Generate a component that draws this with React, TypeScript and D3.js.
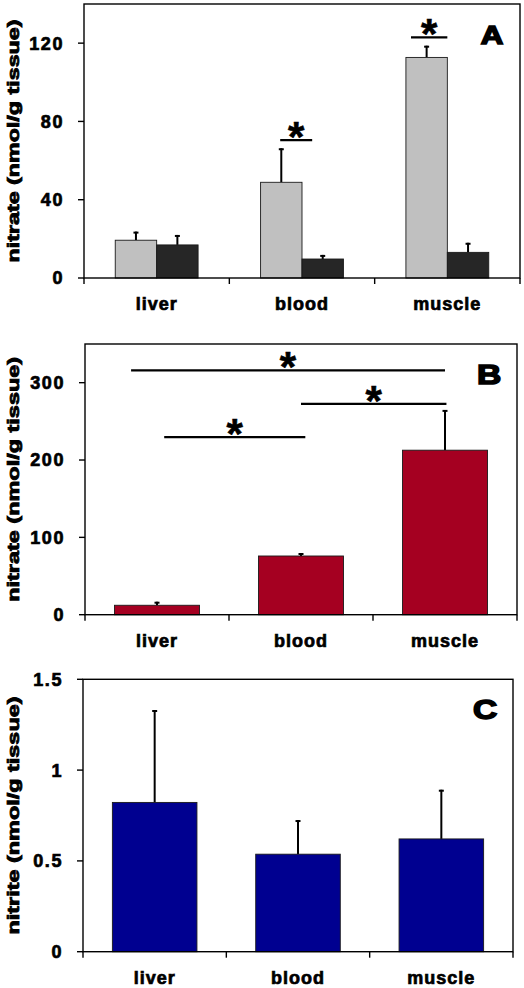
import React from "react";
import * as d3 from "d3";

// ---- data ----
const categories = ["liver", "blood", "muscle"];

// Panel A: nitrate, two groups (grey = control, black = treated)
const nitrateGrey = [19.3, 48.9, 112.7];
const nitrateGreyErr = [4.4, 17.4, 6.0];
const nitrateBlack = [16.9, 9.7, 13.1];
const nitrateBlackErr = [5.1, 2.1, 4.9];
const ticksA = [0, 40, 80, 120];

// Panel B: nitrate
const nitrateB = [12.2, 75.9, 212.7];
const nitrateBErr = [4.6, 3.9, 52.1];
const ticksB = [0, 100, 200, 300];

// Panel C: nitrite
const nitriteC = [0.822, 0.537, 0.621];
const nitriteCErr = [0.509, 0.188, 0.271];
const ticksC = [0, 0.5, 1, 1.5];
const tickLabelsC = ["0", "0.5", "1", "1.5"];

// significance brackets: category + offset (in steps), level in data units
const sigA = [
  { from: "blood", fromOff: -0.15, to: "blood", toOff: 0.07, level: 70.4 },
  { from: "muscle", fromOff: -0.25, to: "muscle", toOff: 0.0, level: 122.9 },
];
const sigB = [
  { from: "liver", fromOff: -0.18, to: "muscle", toOff: 0.0, level: 316 },
  { from: "blood", fromOff: 0.0, to: "muscle", toOff: 0.01, level: 272.6 },
  { from: "liver", fromOff: 0.05, to: "blood", toOff: 0.03, level: 229.5 },
];

const FONT = "'Liberation Sans', Arial, sans-serif";

type Series = { values: number[]; errs: number[]; fill: string };
type Sig = { from: string; fromOff: number; to: string; toOff: number; level: number };

function Panel(props: {
  left: number; right: number; top: number; bottom: number;
  max: number; ticks: number[]; tickLabels?: string[];
  series: Series[]; padding: number; sigs: Sig[];
  letter: string; letterSize: number; yLabel: string; yLabelLen: number;
}) {
  const { left, right, top, bottom, max, ticks, series, padding, sigs } = props;
  const y = d3.scaleLinear().domain([0, max]).range([bottom, top]);
  const step = d3.scaleBand<string>().domain(categories).range([left, right]).padding(0);
  const xb = d3
    .scaleBand<string>()
    .domain(categories)
    .range([left, right])
    .paddingInner(padding)
    .paddingOuter(padding / 2);
  const sub = d3
    .scaleBand<string>()
    .domain(series.map((_, i) => String(i)))
    .range([0, xb.bandwidth()]);
  const center = (c: string) => (step(c) as number) + step.bandwidth() / 2;
  const pos = (c: string, off: number) => center(c) + off * step.bandwidth();
  const boundaries = [...categories.map((c) => step(c) as number), right];
  const tickLabels = props.tickLabels ?? ticks.map((t) => String(t));
  const lx = right - 28;
  const ly = top + 40;

  return (
    <g>
      {/* bars */}
      {series.map((s, si) =>
        categories.map((c, ci) => {
          const x0 = (xb(c) as number) + (sub(String(si)) as number);
          const w = sub.bandwidth();
          const yv = y(s.values[ci]);
          const ye = y(s.values[ci] + s.errs[ci]);
          const cx = x0 + w / 2;
          return (
            <g key={`${si}-${ci}`}>
              <line x1={cx} x2={cx} y1={yv} y2={ye} stroke="#000" strokeWidth={2} />
              <line x1={cx - 2.5} x2={cx + 2.5} y1={ye + 1} y2={ye + 1} stroke="#000" strokeWidth={2} />
              <rect x={x0} y={yv} width={w} height={bottom - yv} fill={s.fill} stroke="#1a1a1a" strokeWidth={0.9} />
            </g>
          );
        })
      )}
      {/* frame */}
      <rect x={left} y={top} width={right - left} height={bottom - top} fill="none" stroke="#000" strokeWidth={1.4} />
      {/* y ticks */}
      {ticks.map((t, i) => (
        <g key={`yt${i}`}>
          <line x1={left - 6} x2={left} y1={y(t)} y2={y(t)} stroke="#000" strokeWidth={1.4} />
          <text
            x={left - 20}
            y={y(t)}
            dy="0.36em"
            textAnchor="end"
            fontFamily={FONT}
            fontWeight="bold"
            fontSize={18}
            letterSpacing={1.6}
            stroke="#000"
            strokeWidth={0.7}
          >
            {tickLabels[i]}
          </text>
        </g>
      ))}
      {/* x ticks */}
      {boundaries.map((bx, i) => (
        <line key={`xt${i}`} x1={bx} x2={bx} y1={bottom} y2={bottom + 6} stroke="#000" strokeWidth={1.4} />
      ))}
      {categories.map((c) => (
        <text
          key={`xl${c}`}
          x={center(c)}
          y={bottom + 32}
          textAnchor="middle"
          fontFamily={FONT}
          fontWeight="bold"
          fontSize={18}
          letterSpacing={1}
          stroke="#000"
          strokeWidth={0.7}
        >
          {c}
        </text>
      ))}
      {/* y label */}
      <text
        transform={`translate(19,${(top + bottom) / 2}) rotate(-90)`}
        textAnchor="middle"
        fontFamily={FONT}
        fontWeight="bold"
        fontSize={17}
        textLength={props.yLabelLen}
        lengthAdjust="spacingAndGlyphs"
        stroke="#000"
        strokeWidth={0.8}
      >
        {props.yLabel}
      </text>
      {/* significance */}
      {sigs.map((s, i) => {
        const x1 = pos(s.from, s.fromOff);
        const x2 = pos(s.to, s.toOff);
        const sy = y(s.level);
        return (
          <g key={`sig${i}`}>
            <line x1={x1} x2={x2} y1={sy} y2={sy} stroke="#000" strokeWidth={2.3} />
            <text
              x={(x1 + x2) / 2}
              y={sy + 11}
              textAnchor="middle"
              fontFamily={FONT}
              fontWeight="bold"
              fontSize={42}
              stroke="#000"
              strokeWidth={0.6}
            >
              *
            </text>
          </g>
        );
      })}
      {/* panel letter */}
      <text
        transform={`translate(${lx},${ly}) scale(1.2,1)`}
        textAnchor="middle"
        fontFamily={FONT}
        fontWeight="bold"
        fontSize={props.letterSize}
        stroke="#000"
        strokeWidth={1.6}
      >
        {props.letter}
      </text>
    </g>
  );
}

export default function App() {
  return (
    <svg
      width={524}
      height={988}
      style={{ position: "absolute", left: 0, top: 0, display: "block", background: "#fff" }}
    >
      <rect x={0} y={0} width={524} height={988} fill="#fff" />
      <Panel
        left={84} right={520} top={4} bottom={278}
        max={140} ticks={ticksA} padding={0.43}
        series={[
          { values: nitrateGrey, errs: nitrateGreyErr, fill: "#c0c0c0" },
          { values: nitrateBlack, errs: nitrateBlackErr, fill: "#262626" },
        ]}
        sigs={sigA} letter="A" letterSize={26}
        yLabel="nitrate (nmol/g tissue)" yLabelLen={243}
      />
      <Panel
        left={85} right={517} top={344} bottom={614.7}
        max={350} ticks={ticksB} padding={0.41}
        series={[{ values: nitrateB, errs: nitrateBErr, fill: "#a50021" }]}
        sigs={sigB} letter="B" letterSize={28}
        yLabel="nitrate (nmol/g tissue)" yLabelLen={245}
      />
      <Panel
        left={83} right={513} top={679.3} bottom={951.7}
        max={1.5} ticks={ticksC} tickLabels={tickLabelsC} padding={0.41}
        series={[{ values: nitriteC, errs: nitriteCErr, fill: "#000090" }]}
        sigs={[]} letter="C" letterSize={28}
        yLabel="nitrite (nmol/g tissue)" yLabelLen={238}
      />
    </svg>
  );
}
